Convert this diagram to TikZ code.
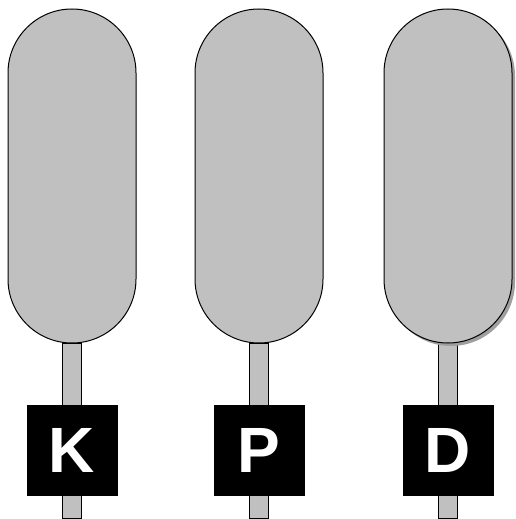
\documentclass[tikz,border=0pt]{standalone}
\usepackage{fontspec}
\setmainfont{Liberation Sans}
\usetikzlibrary{positioning}
\definecolor{capgray}{HTML}{C0C0C0}

\begin{document}
\begin{tikzpicture}[x=1pt,y=1pt,
capsule/.pic={\draw[fill=capgray,line width=1pt] (-64,103) arc (180:0:64) -- (64,-103) arc (0:-180:64) -- cycle;},
capshadow/.pic={\fill[gray!75] (-61,100) arc (180:0:64) -- (67,-106) arc (0:-180:64) -- cycle;},
stem/.style={draw,fill=capgray,line width=1pt,minimum width=19pt,minimum height=175pt,inner sep=0pt},
key/.style={fill=black,text=white,minimum size=91pt,inner sep=0pt,font=\fontsize{64}{64}\selectfont\bfseries}]
\useasboundingbox (0,0) rectangle (515,-519);
\node[stem] (stemK) at (72,-430.5) {};
\node[stem] (stemP) at (259,-430.5) {};
\node[stem] (stemD) at (448,-430.5) {};
\pic (capK) at (72,-176) {capsule};
\pic (capP) at (259,-176) {capsule};
\pic (shadowD) at (448,-176) {capshadow};
\pic (capD) at (448,-176) {capsule};
\node[key] (keyK) at (72,-450.5) {K};
\node[key] (keyP) at (259,-450.5) {P};
\node[key] (keyD) at (448,-450.5) {D};
\end{tikzpicture}
\end{document}
